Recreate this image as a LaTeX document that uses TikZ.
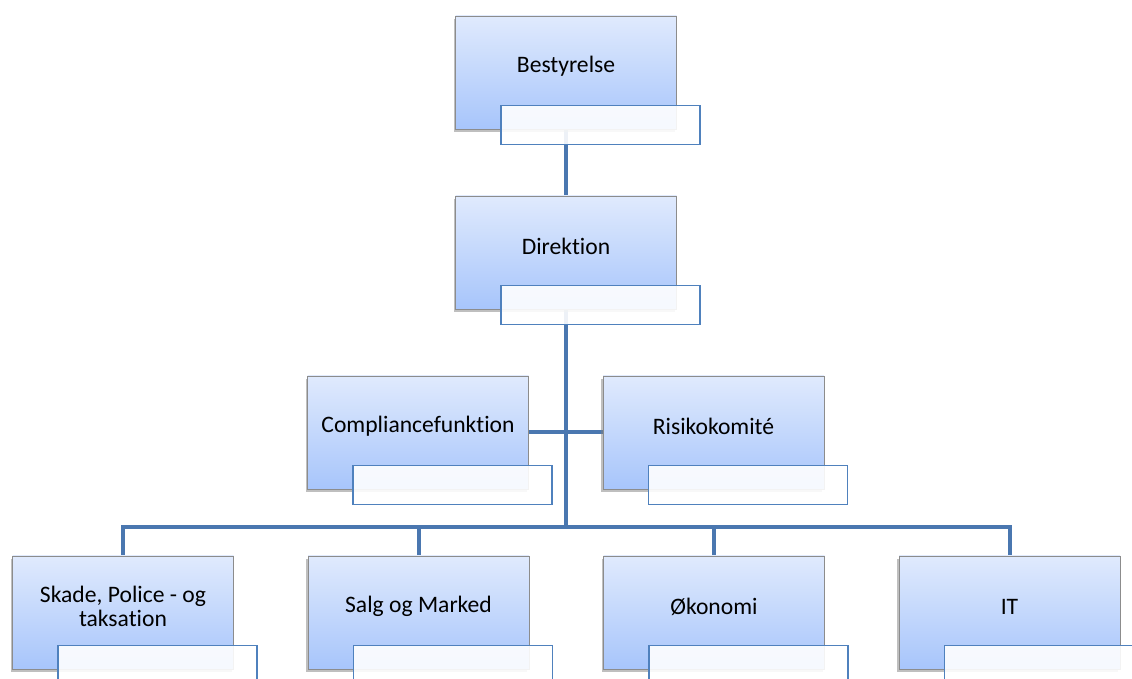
\documentclass[tikz,border=0pt]{standalone}
\usepackage{fontspec}
\setmainfont{Carlito}[RawFeature={-liga;-clig}]
\usepackage{tikz}
\usetikzlibrary{positioning, shadows, backgrounds}
\definecolor{boxtop}{HTML}{E0EAFD}
\definecolor{boxbottom}{HTML}{A7C5FB}
\definecolor{linkblue}{HTML}{4A77B0}
\definecolor{subblue}{HTML}{4F81BD}

\begin{document}
\begin{tikzpicture}[x=0.5pt, y=-0.5pt,
    orgbox/.style={rectangle, draw=black!45, line width=0.4pt, top color=boxtop, bottom color=boxbottom,
        minimum width=110.5pt, minimum height=56.5pt, inner sep=0pt,
        drop shadow={shadow xshift=-1pt, shadow yshift=-1.5pt, opacity=.5}},
    orgtext/.style={align=center, font=\fontsize{11.8}{12.2}\selectfont, inner sep=0pt},
    subbox/.style={rectangle, draw=subblue, line width=0.8pt, fill=white, fill opacity=.9,
        minimum width=99.5pt, minimum height=19.5pt, inner sep=0pt},
    link/.style={draw=linkblue, line width=2pt}]
\clip (0,0) rectangle (1132,679);

\foreach \n/\x/\y/\t in {bestyrelse/566/72.5/Bestyrelse, direktion/566/252.5/Direktion,
    compliance/418/432.5/Compliancefunktion, risiko/713.5/432.5/Risikokomité,
    skade/123/612.5/{Skade, Police - og\\taksation}, salg/418.5/612.5/Salg og Marked,
    oekonomi/714/612.5/Økonomi, it/1009.5/612.5/IT}
{
    \node[orgbox] (\n) at (\x,\y) {};
    \node[orgtext] (\n-text) at ([yshift=3pt]\n.center) {\t};
    \node[subbox, below right=44.5pt and 22.5pt of \n.north west] (\n-sub) {};
}

\coordinate (bus) at (566,527.5);

\begin{scope}[on background layer]
\draw[link] (bestyrelse) -- (direktion);
\draw[link] (direktion) -- (bus);
\draw[link] (compliance) -- (risiko);
\draw[link] (skade) |- (bus) -| (it);
\draw[link] (salg) |- (bus);
\draw[link] (oekonomi) |- (bus);
\end{scope}
\end{tikzpicture}
\end{document}
